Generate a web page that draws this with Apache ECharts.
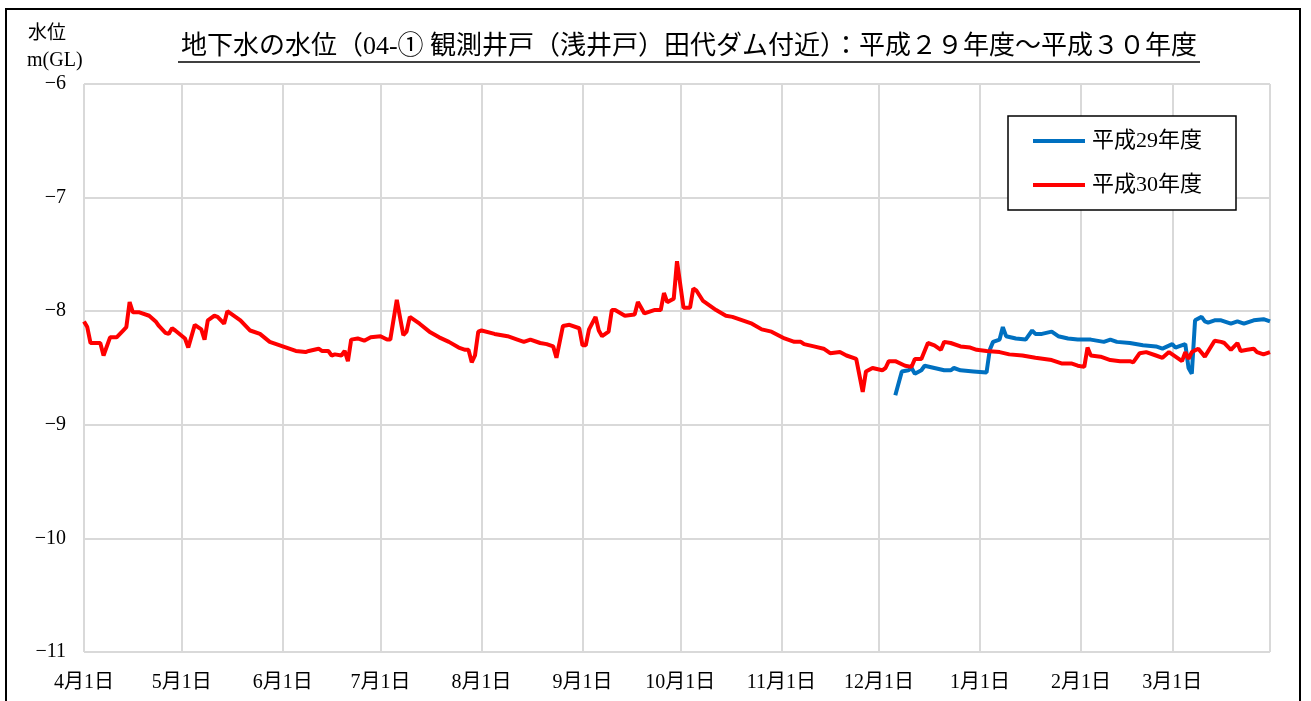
<!DOCTYPE html>
<html>
<head>
<meta charset="utf-8">
<title>地下水の水位</title>
<script src="https://cdn.jsdelivr.net/npm/echarts@6/dist/echarts.min.js"></script>
<style>
  html, body { margin: 0; padding: 0; background: #fff; }
  #chart { width: 1311px; height: 701px; }
</style>
</head>
<body>
<div id="chart"></div>
<script>
// 平成30年度 = 2018/4/1 ～ 2019/3/31, one category per day
const categories = [];
for (let i = 0; i < 365; i++) {
  const d = new Date(Date.UTC(2018, 3, 1 + i));
  categories.push((d.getUTCMonth() + 1) + '月' + d.getUTCDate() + '日');
}

const yTicks = [-11, -10, -9, -8, -7, -6];

// 平成30年度 (red): day index from 4/1, water level m(GL)
const h30Days = [0, 1, 2, 5, 6, 8, 10, 12, 13, 14, 15, 17, 20, 22, 23, 25, 26, 27, 28, 31,
  32, 34, 36, 37, 38, 40, 41, 43, 44, 48, 51, 54, 57, 61, 65, 68, 69, 72, 73, 75,
  76, 77, 79, 80, 81, 82, 84, 86, 88, 91, 93, 94, 96, 98, 99, 100, 103, 106, 109, 112,
  115, 117, 118, 119, 120, 121, 122, 126, 130, 133, 135, 137, 140, 142, 144, 145, 147, 149, 152, 153,
  154, 155, 157, 158, 159, 161, 162, 163, 166, 169, 170, 172, 175, 177, 178, 179, 181, 182, 184, 186,
  187, 188, 190, 194, 197, 199, 201, 205, 208, 211, 215, 218, 220, 221, 224, 227, 229, 232, 234, 237,
  239, 240, 242, 245, 246, 247, 249, 252, 254, 255, 257, 259, 261, 263, 264, 266, 269, 272, 274, 277,
  281, 284, 288, 292, 297, 300, 303, 305, 307, 308, 309, 312, 315, 318, 321, 322, 324, 326, 329, 331,
  333, 335, 337, 338, 339, 340, 342, 344, 347, 349, 350, 352, 354, 355, 357, 359, 360, 362, 364];
const h30Values = [-8.09, -8.14, -8.28, -8.28, -8.39, -8.23, -8.23, -8.17, -8.14, -7.92, -8.01, -8.01, -8.04, -8.09, -8.13, -8.19, -8.20, -8.15, -8.17, -8.24,
  -8.32, -8.12, -8.16, -8.25, -8.08, -8.04, -8.05, -8.11, -8.00, -8.08, -8.17, -8.20, -8.27, -8.31, -8.35, -8.36, -8.35, -8.33, -8.35, -8.35,
  -8.39, -8.38, -8.39, -8.35, -8.44, -8.25, -8.24, -8.26, -8.23, -8.22, -8.25, -8.25, -7.90, -8.21, -8.18, -8.05, -8.11, -8.18, -8.23, -8.27,
  -8.32, -8.34, -8.34, -8.45, -8.39, -8.18, -8.17, -8.20, -8.22, -8.25, -8.27, -8.25, -8.28, -8.29, -8.31, -8.41, -8.13, -8.12, -8.15, -8.30,
  -8.30, -8.16, -8.05, -8.17, -8.22, -8.18, -7.99, -7.99, -8.04, -8.03, -7.92, -8.02, -7.99, -7.99, -7.84, -7.92, -7.89, -7.56, -7.97, -7.97,
  -7.80, -7.82, -7.91, -7.99, -8.04, -8.05, -8.07, -8.11, -8.16, -8.18, -8.24, -8.27, -8.27, -8.29, -8.31, -8.33, -8.37, -8.36, -8.39, -8.42,
  -8.71, -8.53, -8.50, -8.52, -8.50, -8.44, -8.44, -8.48, -8.49, -8.42, -8.42, -8.28, -8.30, -8.34, -8.27, -8.28, -8.31, -8.32, -8.34, -8.35,
  -8.36, -8.38, -8.39, -8.41, -8.43, -8.46, -8.46, -8.48, -8.49, -8.32, -8.39, -8.40, -8.43, -8.44, -8.44, -8.45, -8.37, -8.36, -8.39, -8.41,
  -8.36, -8.40, -8.44, -8.36, -8.42, -8.36, -8.33, -8.40, -8.26, -8.27, -8.28, -8.34, -8.28, -8.35, -8.34, -8.33, -8.36, -8.38, -8.36];

// 平成29年度 (blue): only Dec - Mar
const h29Days = [249, 251, 253, 254, 255, 257, 258, 261, 264, 266, 267, 269, 273, 277, 278, 279, 281, 282, 283, 286,
  289, 291, 292, 294, 297, 299, 302, 305, 309, 313, 315, 317, 321, 325, 329, 331, 334, 335, 336, 338,
  339, 340, 341, 343, 344, 345, 347, 349, 352, 354, 356, 359, 362, 364];
const h29Values = [-8.74, -8.53, -8.52, -8.50, -8.55, -8.52, -8.48, -8.50, -8.52, -8.52, -8.50, -8.52, -8.53, -8.54, -8.34, -8.27, -8.25, -8.14, -8.22, -8.24,
  -8.25, -8.17, -8.20, -8.20, -8.18, -8.22, -8.24, -8.25, -8.25, -8.27, -8.25, -8.27, -8.28, -8.30, -8.31, -8.33, -8.29, -8.32, -8.31, -8.29,
  -8.50, -8.55, -8.08, -8.05, -8.09, -8.10, -8.08, -8.08, -8.11, -8.09, -8.11, -8.08, -8.07, -8.09];

const seriesNames = ['平成29年度', '平成30年度'];

const FONT = '"Liberation Serif", "Noto Sans CJK JP", serif';
const gridColor = '#d9d9d9';

const chart = echarts.init(document.getElementById('chart'));

const isMonthStart = (idx, val) => val.endsWith('月1日');

const option = {
  backgroundColor: '#fff',
  animation: false,
  textStyle: { fontFamily: FONT },
  graphic: [
    {
      type: 'rect',
      shape: { x: 6, y: 9, width: 1294, height: 720 },
      style: { fill: 'none', stroke: '#000', lineWidth: 2 },
      silent: true
    },
    {
      type: 'text',
      x: 689, y: 47,
      style: {
        text: '地下水の水位（04-① 観測井戸（浅井戸）田代ダム付近）：平成２９年度～平成３０年度',
        fontSize: 26, fontFamily: FONT, fill: '#000',
        align: 'center', verticalAlign: 'middle'
      }
    },
    {
      type: 'line',
      shape: { x1: 178, y1: 62, x2: 1200, y2: 62 },
      style: { stroke: '#000', lineWidth: 1.5 }
    },
    {
      type: 'text',
      x: 28, y: 34,
      style: { text: '水位', fontSize: 19, fontFamily: FONT, fill: '#000', verticalAlign: 'middle' }
    },
    {
      type: 'text',
      x: 27, y: 61,
      style: { text: 'm(GL)', fontSize: 20, fontFamily: FONT, fill: '#000', verticalAlign: 'middle' }
    }
  ],
  grid: {
    left: 84, right: 41, top: 84, bottom: 49,
    containLabel: false,
    outerBoundsMode: 'none'
  },
  legend: {
    data: seriesNames,
    orient: 'vertical',
    left: 1008, top: 116,
    padding: [14, 34, 14, 25],
    itemGap: 22,
    icon: 'rect',
    itemWidth: 52,
    itemHeight: 4,
    borderColor: '#000',
    borderWidth: 1.5,
    backgroundColor: '#fff',
    textStyle: { fontSize: 22, color: '#000', fontFamily: FONT, padding: [0, 0, 0, 2] }
  },
  xAxis: {
    type: 'category',
    data: categories,
    boundaryGap: false,
    axisLine: { show: false },
    axisTick: { show: false },
    axisLabel: {
      interval: isMonthStart,
      margin: 21,
      fontSize: 20,
      color: '#000',
      fontFamily: FONT
    },
    splitLine: {
      show: true,
      interval: (idx, val) => isMonthStart(idx, val) || idx === categories.length - 1,
      lineStyle: { color: gridColor, width: 2 }
    }
  },
  yAxis: {
    type: 'value',
    min: yTicks[0],
    max: yTicks[yTicks.length - 1],
    interval: 1,
    axisLine: { show: false },
    axisTick: { show: false },
    axisLabel: {
      margin: 18,
      fontSize: 20,
      color: '#000',
      fontFamily: FONT,
      formatter: v => String(v).replace('-', '−')
    },
    splitLine: { lineStyle: { color: gridColor, width: 2 } }
  },
  series: [
    {
      name: seriesNames[0],
      type: 'line',
      data: h29Days.map((d, i) => [d, h29Values[i]]),
      showSymbol: false,
      symbol: 'none',
      lineStyle: { color: '#0070C0', width: 4 },
      itemStyle: { color: '#0070C0' }
    },
    {
      name: seriesNames[1],
      type: 'line',
      data: h30Days.map((d, i) => [d, h30Values[i]]),
      showSymbol: false,
      symbol: 'none',
      lineStyle: { color: '#FF0000', width: 4 },
      itemStyle: { color: '#FF0000' }
    }
  ]
};

chart.setOption(option);
</script>
</body>
</html>
